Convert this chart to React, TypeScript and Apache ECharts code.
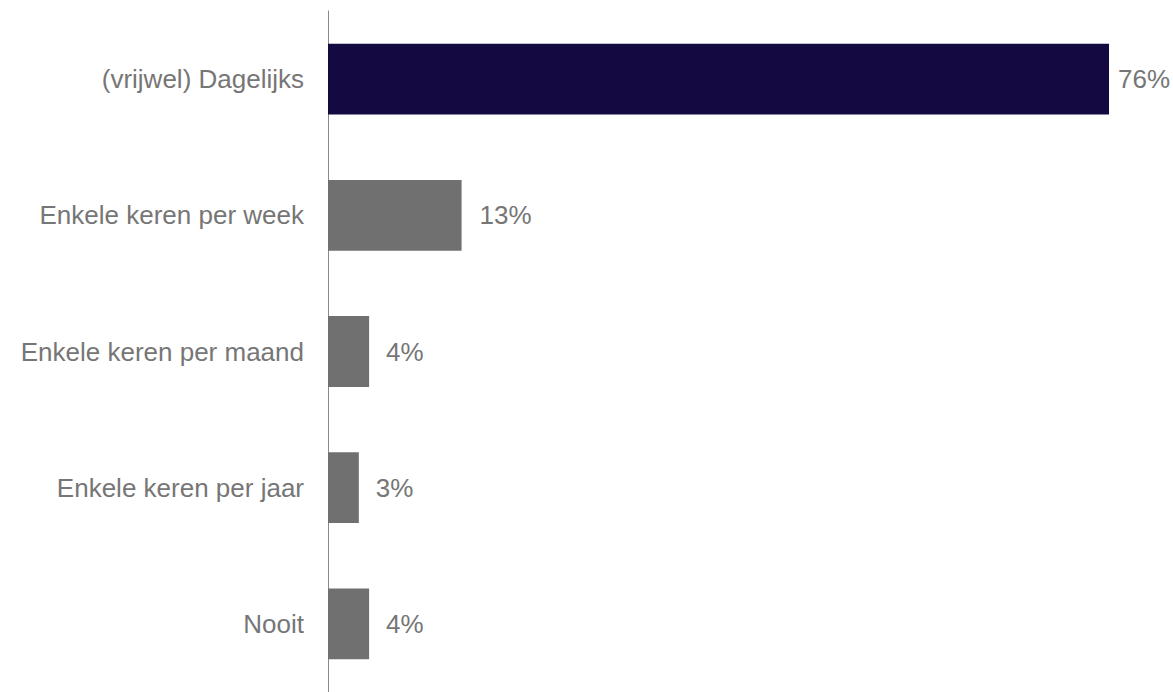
import React, { useEffect, useRef } from "react";
import * as echarts from "echarts";

const categories = [
  "(vrijwel) Dagelijks",
  "Enkele keren per week",
  "Enkele keren per maand",
  "Enkele keren per jaar",
  "Nooit",
];
const values = [76, 13, 4, 3, 4];
const barColors = ["#150942", "#707070", "#707070", "#707070", "#707070"];
const labelDistances = [9, 18, 17, 17, 17];

export default function App() {
  const ref = useRef<HTMLDivElement>(null);
  useEffect(() => {
    if (!ref.current) return;
    const chart = echarts.init(ref.current, undefined, { renderer: "svg" });
    chart.setOption({
      animation: false,
      grid: { left: 328, right: 64, top: 11, height: 685, containLabel: false },
      xAxis: {
        type: "value",
        min: 0,
        max: 76,
        show: false,
      },
      yAxis: {
        type: "category",
        inverse: true,
        data: categories,
        axisLine: { show: true, lineStyle: { color: "#8a8a8a", width: 1 } },
        axisTick: { show: false },
        axisLabel: {
          color: "#767676",
          fontSize: 26,
          fontFamily: "Liberation Sans, Arial, sans-serif",
          margin: 24,
        },
      },
      series: [
        {
          type: "bar",
          barWidth: "52%",
          data: values.map((v, i) => ({
            value: v,
            itemStyle: { color: barColors[i] },
            label: {
              show: true,
              position: "right",
              distance: labelDistances[i],
              formatter: "{c}%",
              color: "#767676",
              fontSize: 26,
              fontFamily: "Liberation Sans, Arial, sans-serif",
            },
          })),
        },
      ],
    });
    return () => chart.dispose();
  }, []);
  return (
    <div
      ref={ref}
      style={{ position: "fixed", left: 0, top: 0, width: 1173, height: 692, background: "#fff" }}
    />
  );
}
